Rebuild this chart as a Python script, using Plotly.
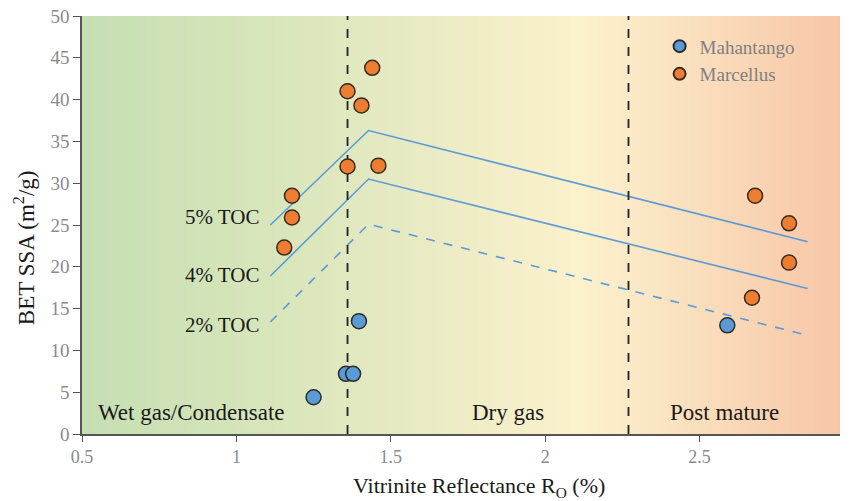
import numpy as np
import plotly.graph_objects as go

# ---- data ----
marc_x = [1.18, 1.18, 1.155, 1.36, 1.44, 1.405, 1.36, 1.46, 2.68, 2.79, 2.79, 2.67]
marc_y = [28.5, 25.9, 22.3, 41.0, 43.8, 39.3, 32.0, 32.1, 28.5, 25.2, 20.5, 16.3]
mah_x = [1.25, 1.355, 1.378, 1.397, 2.59]
mah_y = [4.4, 7.2, 7.2, 13.5, 13.0]

toc_x = [1.11, 1.428, 2.85]
toc5_y = [25.0, 36.3, 23.0]
toc4_y = [18.9, 30.5, 17.4]
toc2_y = [13.4, 25.1, 11.8]
toc_labels = ["5% TOC", "4% TOC", "2% TOC"]
toc_label_y = [26.0, 19.0, 13.0]

zone_bounds = [1.36, 2.27]
zone_labels = ["Wet gas/Condensate", "Dry gas", "Post mature"]
zone_label_x = [0.856, 1.879, 2.58]

x_range = [0.5, 2.955]
y_range = [0, 50]
x_ticks = [0.5, 1, 1.5, 2, 2.5]
x_ticktext = ["0.5", "1", "1.5", "2", "2.5"]

bg_stops = [[0.0, "#c5dfb2"], [0.35, "#e0e8bf"], [0.66, "#fcf1cd"], [0.75, "#fbe6c4"], [1.0, "#f7c6a7"]]

serif = "Liberation Serif"

fig = go.Figure()

# background gradient
gx = np.linspace(x_range[0], x_range[1], 60)
fig.add_trace(go.Heatmap(x=gx, y=y_range, z=[gx, gx], colorscale=bg_stops,
                         showscale=False, zsmooth="best", hoverinfo="skip"))

line_col = "#5b9bd5"
fig.add_trace(go.Scatter(x=toc_x, y=toc5_y, mode="lines", line=dict(color=line_col, width=1.6), showlegend=False))
fig.add_trace(go.Scatter(x=toc_x, y=toc4_y, mode="lines", line=dict(color=line_col, width=1.6), showlegend=False))
fig.add_trace(go.Scatter(x=toc_x, y=toc2_y, mode="lines", line=dict(color=line_col, width=1.6, dash="dash"), showlegend=False))

for xb in zone_bounds:
    fig.add_trace(go.Scatter(x=[xb, xb], y=y_range, mode="lines",
                             line=dict(color="#222222", width=1.8, dash="dash"), showlegend=False))

fig.add_trace(go.Scatter(x=mah_x, y=mah_y, mode="markers", name="Mahantango",
                         marker=dict(size=15, color="#5b9bd5", line=dict(color="#2b2b2b", width=1.5))))
fig.add_trace(go.Scatter(x=marc_x, y=marc_y, mode="markers", name="Marcellus",
                         marker=dict(size=15, color="#ed7d31", line=dict(color="#3a2a20", width=1.5))))

for lbl, yv in zip(toc_labels, toc_label_y):
    fig.add_annotation(x=1.08, y=yv, text=lbl, showarrow=False,
                       xanchor="right", yanchor="middle",
                       font=dict(family=serif, size=21, color="#1a1a1a"))

for lbl, xv in zip(zone_labels, zone_label_x):
    fig.add_annotation(x=xv, y=2.6, text=lbl, showarrow=False, xanchor="center", yanchor="middle",
                       font=dict(family=serif, size=23, color="#1a1a1a"))

# axis titles (placed as in the reference)
fig.add_annotation(xref="paper", yref="paper", x=0.524, y=-0.127, text="Vitrinite Reflectance R<sub>O</sub> (%)",
                   showarrow=False, xanchor="center", yanchor="middle",
                   font=dict(family=serif, size=22, color="#1a1a1a"))
fig.add_annotation(xref="paper", yref="paper", x=-0.075, y=0.445, text="BET SSA (m<sup>2</sup>/g)",
                   showarrow=False, xanchor="center", yanchor="middle", textangle=-90,
                   font=dict(family=serif, size=23, color="#1a1a1a"))

fig.update_layout(
    width=852, height=501,
    margin=dict(l=82, r=12, t=16, b=67),
    paper_bgcolor="white", plot_bgcolor="white",
    font=dict(family=serif),
    legend=dict(x=0.762, y=0.973, xanchor="left", yanchor="top", bgcolor="rgba(0,0,0,0)",
                font=dict(family=serif, size=19, color="#808080"), itemsizing="constant",
                tracegroupgap=0, itemwidth=30),
    showlegend=True,
)
fig.update_xaxes(range=x_range, tickvals=x_ticks, ticktext=x_ticktext,
                 automargin=False,
                 showgrid=False, zeroline=False, showline=True, linecolor="#555555", linewidth=1.5,
                 ticks="outside", ticklen=6, tickcolor="#555555",
                 tickfont=dict(family=serif, size=18, color="#8a8a8a"))
fig.update_yaxes(range=y_range, dtick=5, showgrid=False, zeroline=False, showline=True, automargin=False,
                 linecolor="#555555", linewidth=1.5, ticks="outside", ticklen=7, tickcolor="#555555",
                 tickfont=dict(family=serif, size=19, color="#8a8a8a"))

fig.write_html("out.html", config={"displayModeBar": False},
               post_script="document.body.style.margin='0px';")
